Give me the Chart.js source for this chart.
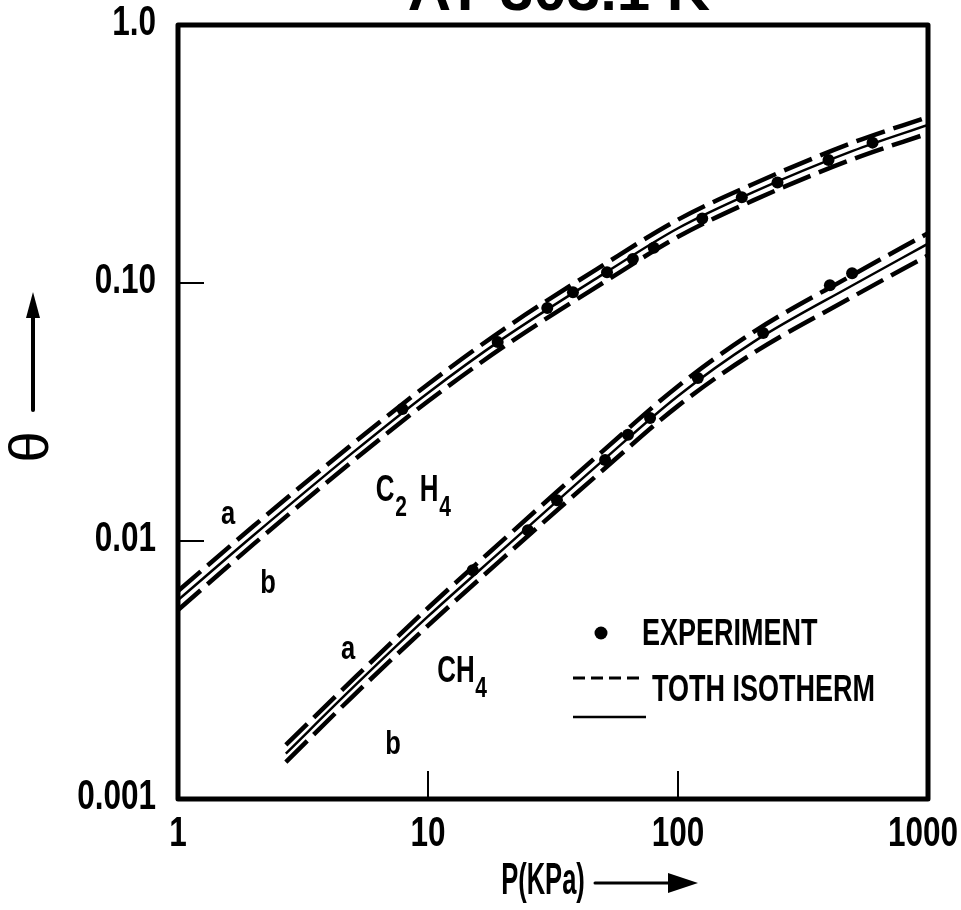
<!DOCTYPE html>
<html>
<head>
<meta charset="utf-8">
<script src="https://cdn.jsdelivr.net/npm/chart.js@4.4.1/dist/chart.umd.min.js"></script>
<style>
  html, body { margin: 0; padding: 0; background: #fff; }
  #wrap { width: 961px; height: 910px; }
</style>
</head>
<body>
<div id="wrap"><canvas id="isotherm-chart" width="961" height="910"></canvas></div>
<script>
// tick labels
const xTicks = [1, 10, 100, 1000];
const xTickLabels = ['1', '10', '100', '1000'];
const yTicks = [0.001, 0.01, 0.1, 1];
const yTickLabels = ['0.001', '0.01', '0.10', '1.0'];

// C2H4 isotherm curves
const c2h4P = [1, 2, 5, 10, 20, 50, 100, 200, 500, 1000];
const c2h4A = [0.0064, 0.0114, 0.0238, 0.0405, 0.066, 0.117, 0.176, 0.242, 0.35, 0.44];
const c2h4Mid = [0.0059, 0.0105, 0.022, 0.0375, 0.061, 0.108, 0.163, 0.225, 0.325, 0.41];
const c2h4B = [0.0054, 0.0097, 0.0204, 0.0348, 0.0565, 0.100, 0.151, 0.209, 0.302, 0.38];
const c2h4ExpP = [7.9, 19, 30, 38, 52, 66, 80, 125, 180, 250, 400, 600];
const c2h4ExpTheta = [0.0325, 0.059, 0.080, 0.092, 0.110, 0.124, 0.137, 0.178, 0.215, 0.245, 0.30, 0.35];

// CH4 isotherm curves
const ch4P = [2.7, 5, 10, 20, 50, 100, 200, 500, 1000];
const ch4A = [0.00162, 0.0029, 0.0055, 0.0101, 0.0223, 0.0398, 0.0645, 0.1075, 0.156];
const ch4Mid = [0.0015, 0.0027, 0.0051, 0.0093, 0.0205, 0.0365, 0.059, 0.098, 0.142];
const ch4B = [0.00139, 0.0025, 0.0047, 0.0086, 0.0188, 0.0334, 0.0535, 0.0885, 0.128];
const ch4ExpP = [15.1, 25.1, 32.8, 51.1, 63.1, 77.3, 120, 219, 405, 497];
const ch4ExpTheta = [0.0077, 0.011, 0.0144, 0.0206, 0.0258, 0.030, 0.0428, 0.064, 0.098, 0.109];

const pts = (xs, ys) => xs.map((x, i) => ({ x, y: ys[i] }));

const dashedLine = (data) => ({
    data, showLine: true, pointRadius: 0, borderColor: '#000',
    borderWidth: 4.5, borderDash: [30, 9], cubicInterpolationMode: 'monotone', fill: false
});
const solidLine = (data) => ({
    data, showLine: true, pointRadius: 0, borderColor: '#000',
    borderWidth: 2.5, cubicInterpolationMode: 'monotone', fill: false
});
const expPoints = (data) => ({
    data, showLine: false, pointRadius: 6, pointBackgroundColor: '#000',
    pointBorderColor: '#000', pointBorderWidth: 0
});

const FONT = '"Liberation Sans", Arial, sans-serif';

// condensed bold text (the original lettering is a narrow gothic)
function condensedText(ctx, text, x, y, size, align, squeeze) {
    ctx.save();
    ctx.font = `bold ${size}px ${FONT}`;
    ctx.textAlign = align || 'left';
    ctx.textBaseline = 'middle';
    ctx.translate(x, y);
    ctx.scale(squeeze || 1, 1);
    ctx.fillText(text, 0, 0);
    ctx.restore();
}

const decorPlugin = {
    id: 'decor',
    beforeDraw(chart) {
        const { ctx } = chart;
        ctx.save();
        ctx.fillStyle = '#fff';
        ctx.fillRect(0, 0, chart.width, chart.height);
        ctx.restore();
    },
    afterDraw(chart) {
        const { ctx, chartArea: a, scales } = chart;
        ctx.save();
        ctx.strokeStyle = '#000';
        ctx.fillStyle = '#000';

        // frame
        ctx.lineWidth = 5;
        ctx.lineJoin = 'round';
        ctx.strokeRect(a.left, a.top, a.right - a.left, a.bottom - a.top);

        // inner tick marks
        ctx.lineWidth = 2;
        [0.1, 0.01].forEach(v => {
            const y = scales.y.getPixelForValue(v);
            ctx.beginPath(); ctx.moveTo(a.left, y); ctx.lineTo(a.left + 26, y); ctx.stroke();
        });
        [10, 100].forEach(v => {
            const x = scales.x.getPixelForValue(v);
            ctx.beginPath(); ctx.moveTo(x, a.bottom); ctx.lineTo(x, a.bottom - 28); ctx.stroke();
        });

        // tick labels
        yTicks.forEach((v, i) => {
            condensedText(ctx, yTickLabels[i], a.left - 22, scales.y.getPixelForValue(v) - 2, 42, 'right', 0.75);
        });
        xTicks.forEach((v, i) => {
            const x = scales.x.getPixelForValue(v);
            const align = i === xTicks.length - 1 ? 'right' : 'center';
            condensedText(ctx, xTickLabels[i], align === 'right' ? 958 : x, 834, 42, align, 0.75);
        });

        // title, cut off at the top edge
        ctx.font = `bold 60px ${FONT}`;
        ctx.textAlign = 'center';
        ctx.textBaseline = 'alphabetic';
        ctx.fillText('AT 303.1 K', 559, 10);

        // y title: rotated theta and arrow
        ctx.save();
        ctx.translate(33, 447);
        ctx.rotate(-Math.PI / 2);
        ctx.font = `56px ${FONT}`;
        ctx.textAlign = 'center';
        ctx.textBaseline = 'middle';
        ctx.fillText('θ', 0, 0);
        ctx.restore();
        ctx.lineWidth = 4;
        ctx.lineCap = 'round';
        ctx.beginPath(); ctx.moveTo(33, 410); ctx.lineTo(33, 312); ctx.stroke();
        ctx.beginPath(); ctx.moveTo(33, 292); ctx.lineTo(26, 318); ctx.lineTo(40, 318); ctx.closePath(); ctx.fill();

        // x title and arrow
        condensedText(ctx, 'P(KPa)', 543, 882, 44, 'center', 0.58);
        ctx.lineWidth = 3;
        ctx.beginPath(); ctx.moveTo(595, 883); ctx.lineTo(675, 883); ctx.stroke();
        ctx.beginPath(); ctx.moveTo(698, 883); ctx.lineTo(668, 873); ctx.lineTo(668, 893); ctx.closePath(); ctx.fill();

        // legend
        ctx.beginPath(); ctx.arc(601, 633, 6.5, 0, Math.PI * 2); ctx.fill();
        condensedText(ctx, 'EXPERIMENT', 642, 635, 36, 'left', 0.75);
        ctx.lineWidth = 3;
        ctx.lineCap = 'butt';
        ctx.setLineDash([12, 6]);
        ctx.beginPath(); ctx.moveTo(573, 678); ctx.lineTo(642, 678); ctx.stroke();
        ctx.setLineDash([]);
        ctx.lineWidth = 2.5;
        ctx.beginPath(); ctx.moveTo(573, 717); ctx.lineTo(646, 717); ctx.stroke();
        condensedText(ctx, 'TOTH ISOTHERM', 652, 691, 36, 'left', 0.75);

        // curve labels
        condensedText(ctx, 'a', 228, 515, 34, 'center', 0.75);
        condensedText(ctx, 'b', 268, 584, 34, 'center', 0.75);
        condensedText(ctx, 'C', 385, 491, 37, 'center', 0.7);
        condensedText(ctx, '2', 401, 508, 30, 'center', 0.7);
        condensedText(ctx, 'H', 429, 491, 37, 'center', 0.7);
        condensedText(ctx, '4', 445, 508, 30, 'center', 0.7);
        condensedText(ctx, 'a', 348, 650, 34, 'center', 0.75);
        condensedText(ctx, 'b', 393, 745, 34, 'center', 0.75);
        condensedText(ctx, 'CH', 456, 672, 37, 'center', 0.7);
        condensedText(ctx, '4', 481, 689, 30, 'center', 0.7);

        ctx.restore();
    }
};

new Chart(document.getElementById('isotherm-chart'), {
    type: 'scatter',
    data: {
        datasets: [
            dashedLine(pts(c2h4P, c2h4A)),
            solidLine(pts(c2h4P, c2h4Mid)),
            dashedLine(pts(c2h4P, c2h4B)),
            dashedLine(pts(ch4P, ch4A)),
            solidLine(pts(ch4P, ch4Mid)),
            dashedLine(pts(ch4P, ch4B)),
            expPoints(pts(c2h4ExpP, c2h4ExpTheta)),
            expPoints(pts(ch4ExpP, ch4ExpTheta))
        ]
    },
    options: {
        responsive: false,
        animation: false,
        layout: { padding: { top: 25, right: 33, left: 0, bottom: 0 } },
        plugins: { legend: { display: false }, tooltip: { enabled: false } },
        scales: {
            x: {
                type: 'logarithmic', min: 1, max: 1000,
                grid: { display: false, drawTicks: false },
                border: { display: false },
                ticks: { display: false },
                afterFit: (s) => {
                    s.height = 111;
                    s.paddingLeft = 0; s.paddingRight = 0;
                }
            },
            y: {
                type: 'logarithmic', min: 0.001, max: 1,
                grid: { display: false, drawTicks: false },
                border: { display: false },
                ticks: { display: false },
                afterFit: (s) => {
                    s.width = 178;
                    s.paddingTop = 0; s.paddingBottom = 0;
                }
            }
        }
    },
    plugins: [decorPlugin]
});
</script>
</body>
</html>
